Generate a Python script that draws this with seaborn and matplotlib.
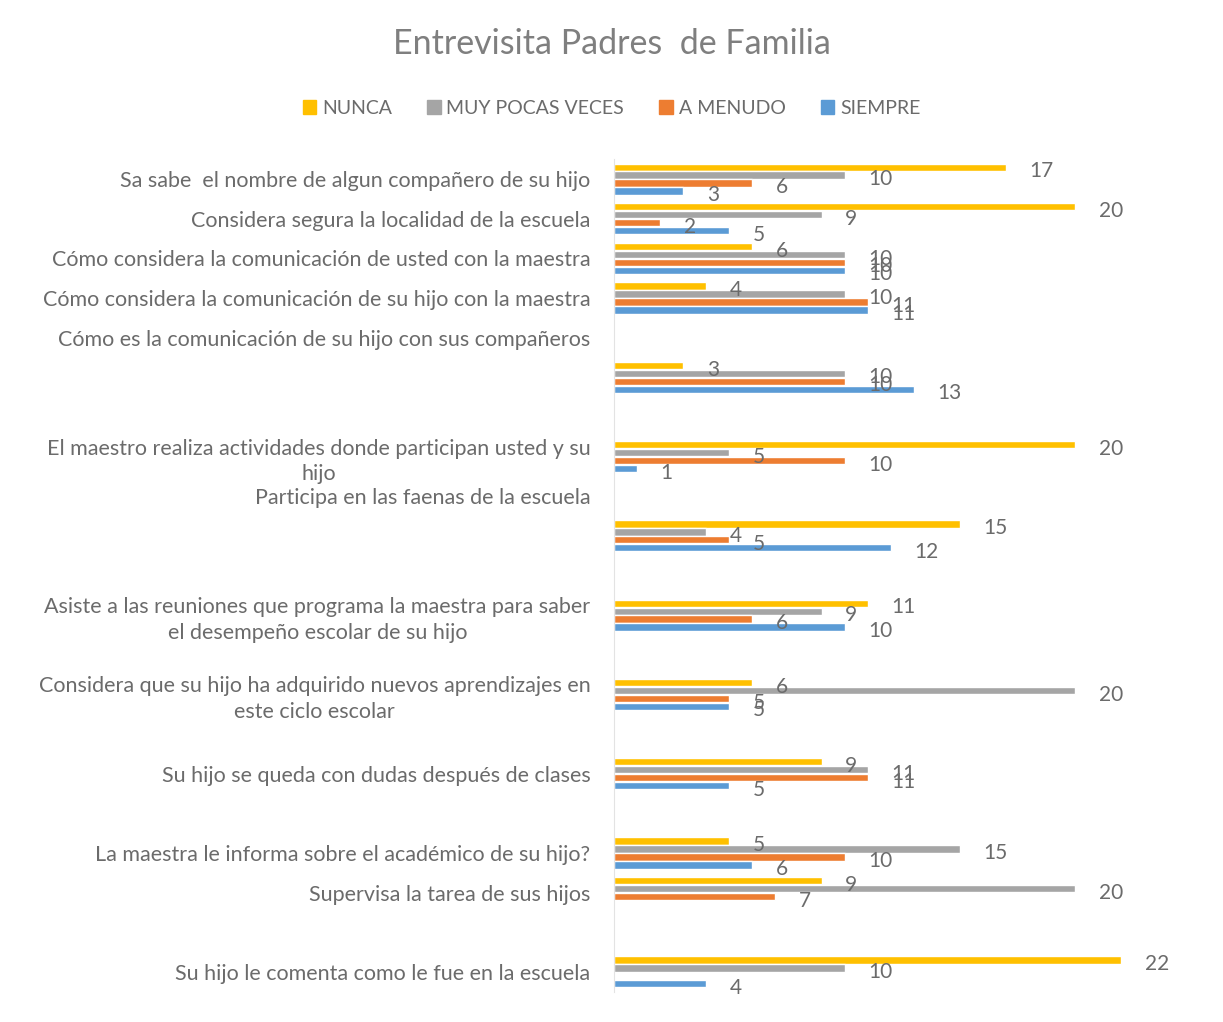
import numpy as np
import pandas as pd
import matplotlib
matplotlib.use("Agg")
import matplotlib.pyplot as plt
import seaborn as sns

nan = np.nan

preguntas = [
    "Sa sabe  el nombre de algun compañero de su hijo",
    "Considera segura la localidad de la escuela",
    "Cómo considera la comunicación de usted con la maestra",
    "Cómo considera la comunicación de su hijo con la maestra",
    "Cómo es la comunicación de su hijo con sus compañeros",
    "",
    "",
    "El maestro realiza actividades donde participan usted y su\nhijo",
    "Participa en las faenas de la escuela",
    "",
    "",
    "Asiste a las reuniones que programa la maestra para saber\nel desempeño escolar de su hijo",
    "",
    "Considera que su hijo ha adquirido nuevos aprendizajes en\neste ciclo escolar",
    "",
    "Su hijo se queda con dudas después de clases",
    "",
    "La maestra le informa sobre el académico de su hijo?",
    "Supervisa la tarea de sus hijos",
    "",
    "Su hijo le comenta como le fue en la escuela",
]

nunca = [17, 20, 6, 4, nan, 3, nan, 20, nan, 15, nan, 11, nan, 6, nan, 9, nan, 5, 9, nan, 22]
muy_pocas = [10, 9, 10, 10, nan, 10, nan, 5, nan, 4, nan, 9, nan, 20, nan, 11, nan, 15, 20, nan, 10]
a_menudo = [6, 2, 10, 11, nan, 10, nan, 10, nan, 5, nan, 6, nan, 5, nan, 11, nan, 10, 7, nan, nan]
siempre = [3, 5, 10, 11, nan, 13, nan, 1, nan, 12, nan, 10, nan, 5, nan, 5, nan, 6, nan, nan, 4]

series = ["NUNCA", "MUY POCAS VECES", "A MENUDO", "SIEMPRE"]
colores = ["#FFC000", "#A5A5A5", "#ED7D31", "#5B9BD5"]

slots = [f"p{i}" for i in range(len(preguntas))]
df = pd.DataFrame({"slot": slots, "NUNCA": nunca, "MUY POCAS VECES": muy_pocas,
                   "A MENUDO": a_menudo, "SIEMPRE": siempre})
long = df.melt(id_vars="slot", var_name="serie", value_name="valor")

sns.set_style("white")
plt.rcParams["font.family"] = ["Lato", "DejaVu Sans"]
texto = "#6b6b6b"

fig = plt.figure(figsize=(12.23, 10.22), dpi=100)
ax = fig.add_axes([0.502, 0.0296, 0.479, 0.8146])

sns.barplot(data=long, y="slot", x="valor", hue="serie", order=slots,
            hue_order=series, palette=colores, saturation=1, orient="h",
            width=0.8, gap=0.08, errorbar=None, ax=ax, legend=False)

for cont in ax.containers:
    for ann in ax.bar_label(cont, fmt="%g", padding=17, fontsize=15, color=texto):
        ann.xyann = (17, -3)

ax.set_xlim(0, 25.4)
ax.set_ylim(len(slots) - 0.5, -0.5)
ax.set_xlabel("")
ax.set_ylabel("")
ax.set_xticks([])
ax.set_yticks(range(len(slots)))
ax.set_yticklabels(preguntas, fontsize=15.5, color=texto,
                   multialignment="center", linespacing=1.35)
ax.tick_params(axis="y", length=0, pad=17)
for s in ["top", "right", "bottom"]:
    ax.spines[s].set_visible(False)
ax.spines["left"].set_color("#e3e3e3")

fig.suptitle("Entrevisita Padres  de Familia", x=0.5, y=0.957, va="center",
             fontsize=24.5, color="#7f7f7f")

handles = [plt.Rectangle((0, 0), 1, 1, color=c) for c in colores]
fig.legend(handles, series, loc="center", bbox_to_anchor=(0.5, 0.894), ncol=4,
           frameon=False, fontsize=14, labelcolor=texto, handlelength=0.7,
           handleheight=0.7, handletextpad=0.3, columnspacing=1.8)

fig.savefig("out.png", dpi=100)
